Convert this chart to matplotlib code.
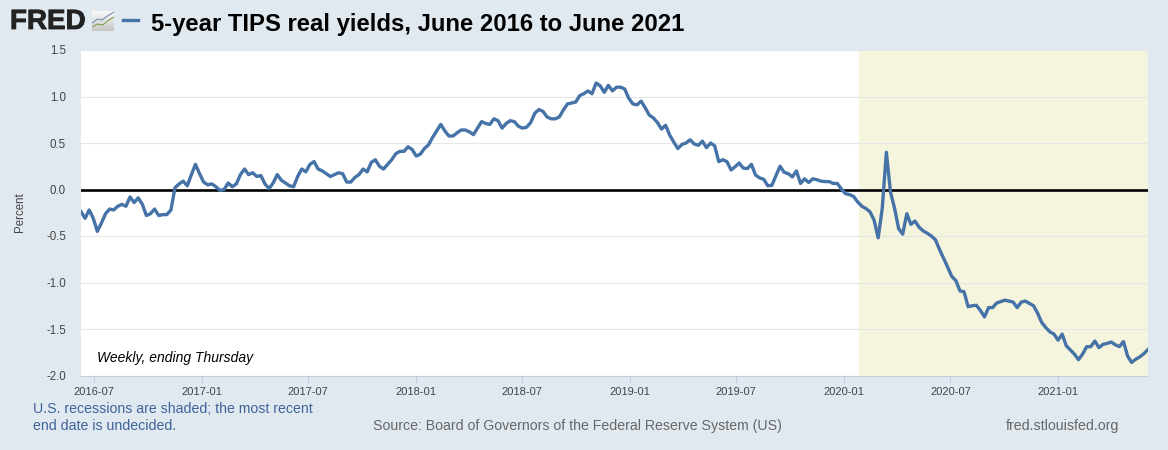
import numpy as np
import matplotlib
matplotlib.use('Agg')
import matplotlib.pyplot as plt
import matplotlib.patheffects as pe
import pandas as pd

plt.rcParams['font.family'] = ['Liberation Sans', 'DejaVu Sans']

yields_2016 = [-0.24, -0.31, -0.22, -0.31, -0.45, -0.36, -0.26, -0.21, -0.22, -0.18,
               -0.16, -0.18, -0.08, -0.14, -0.09, -0.16, -0.28, -0.26, -0.21, -0.28,
               -0.27, -0.27, -0.22, 0.02, 0.06, 0.09, 0.04, 0.16, 0.27, 0.17,
               0.08, 0.05, 0.06, 0.03, -0.01, 0.00, 0.07, 0.03, 0.06, 0.16,
               0.22, 0.16, 0.18, 0.14, 0.15, 0.06, 0.01, 0.07, 0.16, 0.10,
               0.07, 0.04, 0.03, 0.14, 0.22, 0.19, 0.27, 0.30, 0.22, 0.20,
               0.17, 0.14, 0.16, 0.18, 0.17, 0.08, 0.08, 0.13, 0.16, 0.22,
               0.19, 0.29, 0.32, 0.25]
yields_2018 = [0.22, 0.27, 0.32, 0.385, 0.41, 0.41, 0.46, 0.43, 0.36, 0.38,
               0.44, 0.48, 0.56, 0.63, 0.70, 0.63, 0.575, 0.575, 0.61, 0.64,
               0.64, 0.62, 0.59, 0.66, 0.73, 0.71, 0.70, 0.76, 0.74, 0.66,
               0.71, 0.74, 0.73, 0.68, 0.66, 0.67, 0.72, 0.82, 0.86, 0.84,
               0.78, 0.76, 0.76, 0.78, 0.855, 0.92, 0.93, 0.94, 1.01, 1.03,
               1.06, 1.03, 1.145, 1.115, 1.045, 1.12, 1.06, 1.10, 1.10, 1.08,
               0.98, 0.92, 0.91, 0.95, 0.88, 0.80, 0.77, 0.72, 0.65, 0.69,
               0.585]
yields_2019 = [0.51, 0.44, 0.485, 0.50, 0.535, 0.49, 0.475, 0.52, 0.45, 0.50,
               0.47, 0.30, 0.32, 0.30, 0.21, 0.245, 0.285, 0.23, 0.225, 0.27,
               0.155, 0.125, 0.11, 0.04, 0.045, 0.15, 0.25, 0.185, 0.17, 0.135,
               0.20, 0.065, 0.115, 0.075, 0.115, 0.105, 0.09, 0.085, 0.085, 0.065,
               0.065, 0.005, -0.045, -0.055, -0.075, -0.135, -0.18, -0.205, -0.24, -0.33,
               -0.52, -0.20, 0.40, -0.025, -0.20, -0.42, -0.48, -0.26, -0.375, -0.34,
               -0.405]
yields_2020 = [-0.445, -0.47, -0.50, -0.54, -0.645, -0.74, -0.835, -0.935, -0.98, -1.09,
               -1.10, -1.26, -1.25, -1.245, -1.30, -1.37, -1.27, -1.27, -1.22, -1.205,
               -1.19, -1.20, -1.21, -1.27, -1.21, -1.20, -1.225, -1.25, -1.33, -1.43,
               -1.485, -1.53, -1.555, -1.62, -1.555, -1.68, -1.725, -1.77, -1.83, -1.77,
               -1.69, -1.69, -1.63, -1.70, -1.665, -1.655, -1.64, -1.67, -1.69, -1.635,
               -1.79, -1.86, -1.825, -1.80, -1.765, -1.72]
yields = yields_2016 + yields_2018 + yields_2019 + yields_2020

start_date = '2016-06-09'
end_date = '2021-06-03'
dates = pd.date_range(start_date, end_date, periods=len(yields))
recession_start = '2020-01-27'

x_ticks = ['2016-07', '2017-01', '2017-07', '2018-01', '2018-07',
           '2019-01', '2019-07', '2020-01', '2020-07', '2021-01']
y_ticks = [-2.0, -1.5, -1.0, -0.5, 0.0, 0.5, 1.0, 1.5]

W, H = 1168, 450
bg = '#E1E9F0'
blue = '#4572A7'
fig = plt.figure(figsize=(W / 100, H / 100), dpi=100, facecolor=bg)
ax = fig.add_axes([81 / W, 1 - 375.5 / H, (1148 - 81) / W, (375.5 - 50) / H])

ax.axvspan(pd.Timestamp(recession_start), pd.Timestamp(end_date), color='#F5F4DC', lw=0, zorder=0)
ax.axhline(0, color='black', lw=1.9, zorder=2)
ax.plot(dates, yields, color=blue, lw=2.4, zorder=3, solid_joinstyle='round')

ax.set_xlim(pd.Timestamp(start_date), pd.Timestamp(end_date))
ax.set_ylim(-2.0, 1.5)
ax.set_yticks(y_ticks, [f'{v:.1f}' for v in y_ticks])
ax.set_xticks(pd.to_datetime(x_ticks), x_ticks)
ax.grid(axis='y', color='#E6E6E6', lw=0.8, zorder=1)
ax.set_axisbelow(True)
ax.tick_params(axis='y', length=0, pad=10.8, labelsize=8.3, labelcolor='#444444')
ax.tick_params(axis='x', length=5, width=0.8, color='#C0D0E0', pad=3.4, labelsize=8, labelcolor='#444444')
for s in ['top', 'left', 'right']:
    ax.spines[s].set_visible(False)
ax.spines['bottom'].set_color('#C0D0E0')
ax.spines['bottom'].set_linewidth(0.8)


def put(x, y, s, **kw):
    fig.text(x / W, 1 - y / H, s, va='center', **kw)


put(20, 212, 'Percent', rotation=90, ha='center', fontsize=8.3, color='#444444')
put(97, 358, 'Weekly, ending Thursday', style='italic', fontsize=10, color='black')
put(33, 409, 'U.S. recessions are shaded; the most recent', fontsize=10.2, color='#3E6399')
put(33, 426, 'end date is undecided.', fontsize=10.2, color='#3E6399')
put(373, 426, 'Source: Board of Governors of the Federal Reserve System (US)', fontsize=10.2, color='#666666')
put(1006, 426, 'fred.stlouisfed.org', fontsize=10.2, color='#666666')

# header
put(10, 22, 'FRED', fontsize=20, fontweight='bold', color='#222222',
    path_effects=[pe.withStroke(linewidth=0.6, foreground='#222222')])
put(151, 25, '5-year TIPS real yields, June 2016 to June 2021', fontsize=17.2, fontweight='bold', color='black')
fig.add_artist(plt.Line2D([123 / W, 138 / W], [1 - 20 / H] * 2, color=blue, lw=2.4))

logo = fig.add_axes([92 / W, 1 - 31 / H, 22 / W, 20 / H])
logo.imshow(np.linspace(0.97, 0.78, 20)[:, None], cmap='gray', vmin=0, vmax=1, aspect='auto',
            extent=(0, 1, 0, 1))
logo.plot([0, 0.25, 0.45, 0.7, 1], [0.4, 0.6, 0.55, 0.75, 0.95], color='#6688AA', lw=0.7)
logo.plot([0, 0.25, 0.5, 0.7, 1], [0.2, 0.35, 0.3, 0.5, 0.7], color='#77993A', lw=0.7)
logo.axis('off')

fig.savefig('out.png', dpi=100, facecolor=bg)
